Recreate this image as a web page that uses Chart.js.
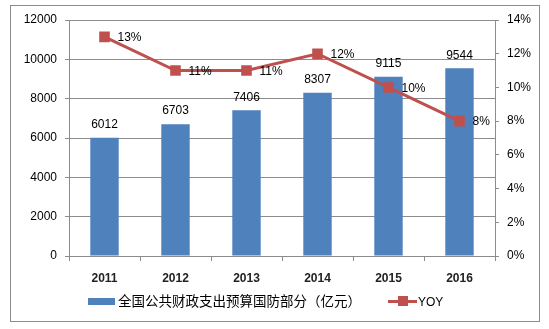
<!DOCTYPE html>
<html><head><meta charset="utf-8">
<script src="https://cdn.jsdelivr.net/npm/chart.js@4"></script>
<style>
html,body{margin:0;padding:0;background:#fff;}
#wrap{position:relative;width:549px;height:329px;}
#frame{position:absolute;left:10px;top:5px;width:530px;height:317px;border:1px solid #8c8c8c;box-sizing:border-box;}
canvas{position:absolute;left:0;top:0;}
#legend{position:absolute;top:290px;left:0;width:549px;height:20px;font-family:"Noto Sans CJK SC","Liberation Sans",sans-serif;font-size:13.5px;color:#000;}
.lg{position:absolute;top:0;line-height:20px;white-space:nowrap;}
</style></head>
<body><div id="wrap"><div id="frame"></div><canvas id="c" width="549" height="329"></canvas>
<div id="legend">
 <div class="lg" style="left:88px;"><span style="display:inline-block;width:27px;height:7px;background:#4F81BD;vertical-align:middle;margin-right:3px;position:relative;top:-1px;"></span><span id="l1"></span></div>
 <div class="lg" style="left:388px;"><span style="display:inline-block;width:29px;height:11px;vertical-align:middle;position:relative;top:-1px;margin-right:1px;"><span style="position:absolute;left:0;top:4px;width:29px;height:3px;background:#C0504D;"></span><span style="position:absolute;left:10px;top:0;width:10px;height:10px;background:#C0504D;"></span></span><span id="l2" style="font-family:'Liberation Sans',sans-serif;font-size:12px;"></span></div>
</div></div>
<script>
const categories = ['2011','2012','2013','2014','2015','2016'];
const spending = [6012, 6703, 7406, 8307, 9115, 9544];
const yoy = [13, 11, 11, 12, 10, 8];
const barLabel = '全国公共财政支出预算国防部分（亿元）';
const lineLabel = 'YOY';
document.getElementById('l1').textContent = barLabel;
document.getElementById('l2').textContent = lineLabel;

const FONT = {family:'"Liberation Sans", sans-serif', size:12};
const GRID = '#8c8c8c';

const labelPlugin = {
  id:'labels',
  afterDatasetsDraw(chart){
    const ctx = chart.ctx;
    ctx.save();
    ctx.font = '12px "Liberation Sans", sans-serif';
    ctx.fillStyle = '#000';
    const bm = chart.getDatasetMeta(0);
    bm.data.forEach((el,i)=>{
      ctx.textAlign='center'; ctx.textBaseline='bottom';
      ctx.fillText(String(spending[i]), el.x, el.y - 7);
    });
    const lm = chart.getDatasetMeta(1);
    lm.data.forEach((el,i)=>{
      ctx.textAlign='left'; ctx.textBaseline='middle';
      ctx.fillText(yoy[i]+'%', el.x + 13, el.y + 1);
    });
    ctx.restore();
  }
};

new Chart(document.getElementById('c'), {
  data:{
    labels:categories,
    datasets:[
      {type:'bar', label:barLabel, data:spending, backgroundColor:'#4F81BD', yAxisID:'y', order:1,
       barPercentage:0.4, categoryPercentage:1.0},
      {type:'line', label:lineLabel, data:yoy, borderColor:'#C0504D', backgroundColor:'#C0504D', borderWidth:3,
       pointStyle:'rect', pointRadius:7.5, pointHoverRadius:7.5, pointBackgroundColor:'#C0504D', pointBorderWidth:0,
       yAxisID:'y1', order:0, tension:0}
    ]
  },
  options:{
    responsive:false, animation:false, devicePixelRatio:1,
    events:[],
    layout:{padding:{top:20,left:0,right:0,bottom:0}},
    plugins:{legend:{display:false}, tooltip:{enabled:false}},
    scales:{
      x:{
        offset:true,
        grid:{offset:true, drawOnChartArea:false, drawTicks:true, tickLength:5, color:GRID},
        border:{color:GRID},
        ticks:{font:{...FONT, weight:'bold'}, color:'#222', padding:10},
        afterFit(s){ s.height = 73; }
      },
      y:{
        position:'left', min:0, max:12000,
        ticks:{stepSize:2000, font:FONT, color:'#000', padding:8, callback:v=>String(v)},
        grid:{color:GRID, tickLength:4},
        border:{color:GRID},
        afterFit(s){ s.width = 69; }
      },
      y1:{
        position:'right', min:0, max:14,
        ticks:{stepSize:2, font:FONT, color:'#000', padding:8, callback:v=>v+'%'},
        grid:{drawOnChartArea:false, tickLength:4, color:GRID},
        border:{color:GRID},
        afterFit(s){ s.width = 54; }
      }
    }
  },
  plugins:[labelPlugin]
});
</script>
</body></html>
